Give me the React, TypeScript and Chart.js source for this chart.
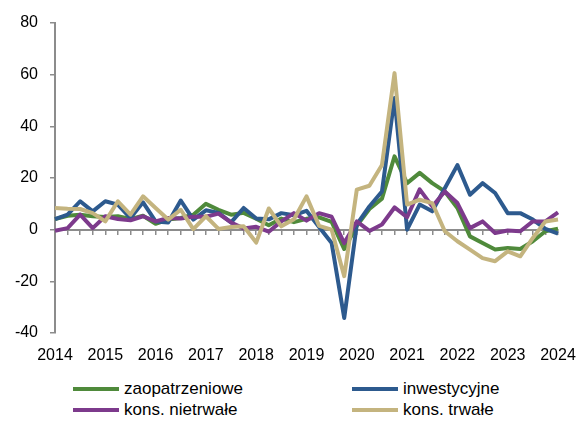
import React, { useEffect, useRef } from "react";
import { Chart, registerables } from "chart.js";

Chart.register(...registerables);

const FIRST_YEAR = 2014;
const LAST_YEAR = 2024;

// quarterly categories 2014 Q1 ... 2024 Q1
const categories: string[] = [];
for (let y = FIRST_YEAR; y <= LAST_YEAR; y++) {
  for (let q = 1; q <= 4; q++) {
    if (y === LAST_YEAR && q > 1) break;
    categories.push(`${y} Q${q}`);
  }
}

const seriesNames = ["zaopatrzeniowe", "inwestycyjne", "kons. nietrwałe", "kons. trwałe"];

const zaopatrzeniowe = [
  4.1, 5.4, 5.8, 5.2, 4.9, 5.2, 4.1, 5.4, 2.3, 3.9,
  4.5, 5.8, 10, 7.7, 5.8, 6.5, 4.2, 1.7, 4.3, 2.9,
  4.2, 4.8, 3, -7.5, 1.5, 8, 12, 28.4, 18, 22,
  18, 14.8, 8.4, -2.6, -5.2, -7.7, -7.1, -7.5, -4.5, -0.6,
  0.4,
];

const inwestycyjne = [
  4.1, 5.8, 11, 7.1, 11, 9.7, 4.5, 10.6, 3.2, 2.8,
  11.3, 3.9, 7.5, 6.5, 2.8, 8.4, 4.3, 4, 6.4, 5.6,
  7.3, 1, -5.2, -34.2, 2, 9, 14.8, 51, 0, 9.7,
  7.1, 16, 25, 13.5, 18, 14.2, 6.4, 6.4, 3.9, 0.3,
  -1.5,
];

const konsNietrwale = [
  -0.4, 0.6, 5.8, 0.6, 5.2, 4.1, 3.6, 5.2, 3.2, 4.5,
  4.3, 5, 5, 6.2, 2.8, 0.5, 1.1, -0.8, 3.2, 6.4,
  3.5, 6.4, 5, -5.2, 3.2, -0.5, 2, 8.6, 4.8, 15.6,
  9, 14.8, 10.3, 0.6, 3.2, -1.3, -0.3, -0.6, 3.2, 3.2,
  6.7,
];

const konsTrwale = [
  8.4, 8.1, 8, 6.4, 3.2, 11, 5.8, 12.9, 8.4, 3.9,
  7.7, 0.2, 5.2, 0.3, 1, 1.3, -5, 8.2, 1.3, 4,
  12.9, 1.5, 0, -18, 15.5, 17, 25, 60.6, 9.7, 11.6,
  10.3, -0.6, -4.5, -7.7, -11, -12.2, -8.4, -10.3, -3.2, 3.2,
  3.9,
];

const Y_MIN = -40;
const Y_MAX = 80;
const Y_STEP = 20;

const COLORS = ["#4f8a3b", "#2d5a8e", "#7d3a8c", "#c4b47f"];
const AXIS = "#8c8c8c";
const FONT = "'Liberation Sans', Arial, sans-serif";

const seriesData = [zaopatrzeniowe, inwestycyjne, konsNietrwale, konsTrwale];
const drawOrder = [4, 3, 2, 1];

export default function App() {
  const ref = useRef<HTMLCanvasElement>(null);

  useEffect(() => {
    const canvas = ref.current;
    if (!canvas) return;
    const chart = new Chart(canvas, {
      type: "line",
      data: {
        labels: categories,
        datasets: seriesNames.map((name, i) => ({
          label: name,
          data: seriesData[i],
          borderColor: COLORS[i],
          backgroundColor: COLORS[i],
          borderWidth: 4,
          pointRadius: 0,
          tension: 0,
          borderJoinStyle: "round" as const,
          borderCapStyle: "butt" as const,
          fill: false,
          xAxisID: "x",
          yAxisID: "y",
          order: drawOrder[i],
        })),
      },
      options: {
        animation: false,
        responsive: false,
        devicePixelRatio: 1,
        layout: { padding: { top: 23, right: 19, left: 0, bottom: 0 } },
        plugins: { legend: { display: false }, tooltip: { enabled: false } },
        scales: {
          x: {
            type: "category",
            axis: "x",
            position: "bottom",
            offset: false,
            grid: {
              display: true,
              drawOnChartArea: false,
              drawTicks: true,
              tickLength: 13,
              color: "rgba(0,0,0,0)",
            },
            border: { display: false },
            ticks: {
              autoSkip: false,
              maxRotation: 0,
              padding: 0,
              color: "#000",
              font: { family: FONT, size: 16 },
              callback: (_v: any, i: number) => (i % 4 === 0 ? String(FIRST_YEAR + i / 4) : ""),
            },
            afterFit: (s: any) => {
              s.height = 42;
            },
          },
          x0: {
            type: "category",
            axis: "x",
            position: { y: 0 },
            offset: false,
            grid: { drawOnChartArea: false, drawTicks: true, tickLength: 4, color: AXIS, lineWidth: 1.5 },
            border: { display: true, color: AXIS, width: 2 },
            ticks: { display: false, autoSkip: false },
          },
          y: {
            type: "linear",
            min: Y_MIN,
            max: Y_MAX,
            grid: { drawOnChartArea: false, drawTicks: true, tickLength: 5, color: AXIS, lineWidth: 1.5 },
            border: { display: true, color: AXIS, width: 2 },
            ticks: {
              stepSize: Y_STEP,
              padding: 12,
              color: "#000",
              font: { family: FONT, size: 16 },
            },
            afterFit: (s: any) => {
              s.width = 55;
            },
          },
        },
      } as any,
    });
    return () => chart.destroy();
  }, []);

  const legendPos = [
    { lineX: 73, textX: 124, cy: 389 },
    { lineX: 352, textX: 403, cy: 389 },
    { lineX: 73, textX: 124, cy: 410 },
    { lineX: 352, textX: 403, cy: 410 },
  ];

  return (
    <div style={{ position: "absolute", left: 0, top: 0, width: 577, height: 421, background: "#fff" }}>
      <canvas ref={ref} width={577} height={375} style={{ position: "absolute", left: 0, top: 0 }} />
      {seriesNames.map((name, i) => (
        <React.Fragment key={name}>
          <div
            style={{
              position: "absolute",
              left: legendPos[i].lineX,
              top: legendPos[i].cy - 2,
              width: 46,
              height: 4,
              background: COLORS[i],
            }}
          />
          <div
            style={{
              position: "absolute",
              left: legendPos[i].textX,
              top: legendPos[i].cy - 10,
              height: 20,
              lineHeight: "20px",
              fontFamily: FONT,
              fontSize: 17,
              color: "#000",
              whiteSpace: "nowrap",
            }}
          >
            {name}
          </div>
        </React.Fragment>
      ))}
    </div>
  );
}
